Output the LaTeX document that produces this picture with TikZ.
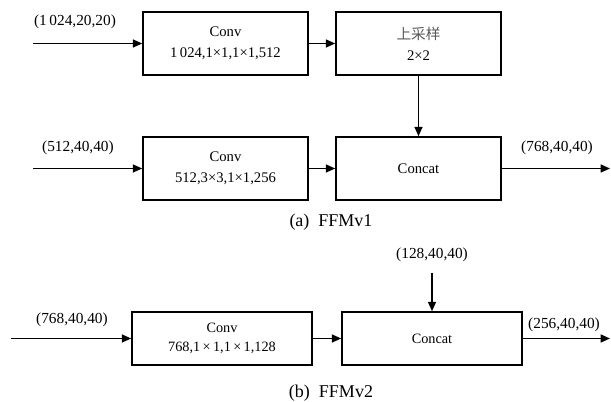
\documentclass[tikz,border=0pt]{standalone}
\usepackage{fontspec}
\setmainfont{Liberation Serif}
\newfontfamily\cjk{Noto Sans CJK SC}
\usetikzlibrary{arrows.meta}
\begin{document}
\begin{tikzpicture}[x=0.75pt,y=-0.75pt,
  blk/.style={draw,line width=1.2pt,minimum width=123.75pt,minimum height=47.25pt,align=center,font=\fontsize{11}{15.5}\selectfont,inner sep=0pt},
  blkb/.style={draw,line width=1.2pt,minimum width=135pt,minimum height=39.75pt,align=center,font=\fontsize{10.7}{14.5}\selectfont,inner sep=0pt},
  arr/.style={line width=1pt,-{Triangle[length=7pt,width=6pt]}},
  lbl/.style={font=\fontsize{11.5}{13}\selectfont,inner sep=0pt},
  captxt/.style={font=\fontsize{13.5}{15}\selectfont,inner sep=0pt}]
\useasboundingbox (0,0) rectangle (611,402);
% part a
\node[blk] (c1) at (225.5,43.5) {Conv\\1\,024,1×1,1×1,512};
\node[blk] (up) at (418.5,43.5) {{\cjk\color{black!65}上采样}\\2×2};
\node[blk] (c2) at (225.5,168.5) {Conv\\512,3×3,1×1,256};
\node[blk] (cat) at (418.5,168.5) {Concat};
\coordinate (ina) at (33,43.5);
\coordinate (inb) at (33,168.5);
\coordinate (outa) at (610,168.5);
\draw[arr] (ina) -- (c1);
\draw[arr] (c1) -- (up);
\draw[arr] (up) -- (cat);
\draw[arr] (inb) -- (c2);
\draw[arr] (c2) -- (cat);
\draw[arr] (cat) -- (outa);
\node[lbl] (l1) at (75,22) {(1\,024,20,20)};
\node[lbl] (l2) at (78,148) {(512,40,40)};
\node[lbl] (l3) at (557,148) {(768,40,40)};
\node[captxt] (capa) at (331,222) {(a)\ \ FFMv1};
% part b
\node[blkb] (c3) at (222,338.5) {Conv\\768,1\,×\,1,1\,×\,1,128};
\node[blkb] (cat2) at (432,338.5) {Concat};
\coordinate (inc) at (11,338.5);
\coordinate (topin) at (432,273);
\coordinate (outb) at (610,338.5);
\draw[arr] (inc) -- (c3);
\draw[arr] (c3) -- (cat2);
\draw[arr] (topin) -- (cat2);
\draw[arr] (cat2) -- (outb);
\node[lbl] (l4) at (72,320) {(768,40,40)};
\node[lbl] (l5) at (432,255) {(128,40,40)};
\node[lbl] (l6) at (564,325) {(256,40,40)};
\node[captxt] (capb) at (331,393) {(b)\ \ FFMv2};
\end{tikzpicture}
\end{document}
